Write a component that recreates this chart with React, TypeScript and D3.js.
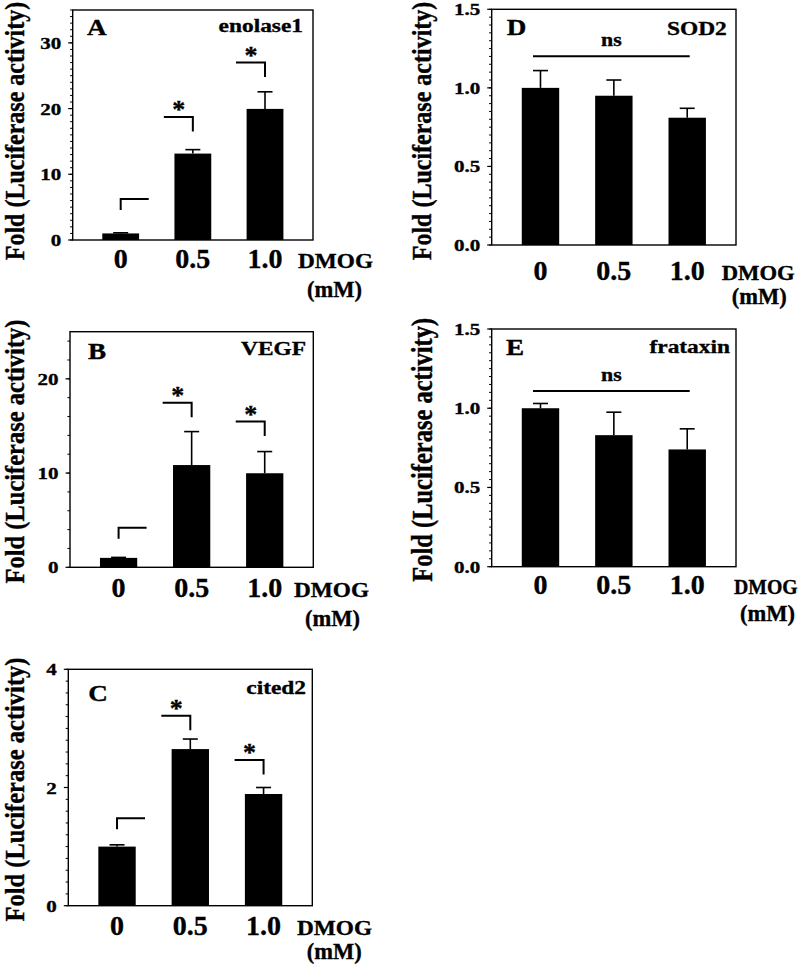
import React from 'react';
import * as d3 from 'd3';

// ---------- data ----------
const doses = ['0', '0.5', '1.0'];

const enolaseMean = [1.0, 13.15, 19.95];
const enolaseErr = [0.1, 0.6, 2.6];
const vegfMean = [1.0, 10.85, 9.98];
const vegfErr = [0.05, 3.55, 2.3];
const cited2Mean = [1.0, 2.65, 1.89];
const cited2Err = [0.03, 0.17, 0.11];
const sod2Mean = [1.0, 0.95, 0.81];
const sod2Err = [0.11, 0.1, 0.06];
const frataxinMean = [1.0, 0.83, 0.74];
const frataxinErr = [0.03, 0.145, 0.13];

const enolaseTicks = [0, 10, 20, 30];
const vegfTicks = [0, 10, 20];
const cited2Ticks = [0, 2, 4];
const sodTicks = [0, 0.5, 1.0, 1.5];
const frataxinTicks = [0, 0.5, 1.0, 1.5];

// significance bracket levels (data units)
const enolaseBrackets = [6.24, 18.7, 27.0];
const vegfBrackets = [4.2, 17.47, 15.46];
const cited2Brackets = [1.479, 3.215, 2.465];
const sod2Ns = 1.202;
const frataxinNs = 1.109;

const FONT = "'Liberation Serif', 'Times New Roman', Times, serif";

type Panel = {
  letter: string;
  name: string;
  mean: number[];
  err: number[];
  ticks: number[];
  yMax: number;
  minor: number;
  fmt: (v: number) => string;
  brackets?: number[];
  ns?: number;
  L: number; R: number; T: number; B: number;
  letterDx: number; letterDy: number;
  nameDx: number; nameDy: number;
  xLabelY: number; dmogX: number; dmogSx: number; mmX: number; mmY: number;
  titleX: number; titleSx: number; titleSize: number; titleMinCy: number;
};

const intFmt = d3.format('d');
const decFmt = d3.format('.1f');

const panels: Panel[] = [
  {
    letter: 'A', name: 'enolase1', mean: enolaseMean, err: enolaseErr, ticks: enolaseTicks,
    yMax: 35, minor: 1, fmt: intFmt, brackets: enolaseBrackets,
    L: 72.7, R: 313, T: 10, B: 240,
    letterDx: 14.3, letterDy: 25, nameDx: 10, nameDy: 22,
    xLabelY: 268, dmogX: 298, dmogSx: 1.06, mmX: 307, mmY: 297,
    titleX: 24, titleSx: 1.1, titleSize: 24, titleMinCy: 131,
  },
  {
    letter: 'B', name: 'VEGF', mean: vegfMean, err: vegfErr, ticks: vegfTicks,
    yMax: 25, minor: 2, fmt: intFmt, brackets: vegfBrackets,
    L: 70, R: 313.3, T: 331.7, B: 567.3,
    letterDx: 18, letterDy: 27.6, nameDx: 7.3, nameDy: 23.3,
    xLabelY: 596.5, dmogX: 294, dmogSx: 1.06, mmX: 305, mmY: 626,
    titleX: 24, titleSx: 1.1, titleSize: 24.5, titleMinCy: 0,
  },
  {
    letter: 'C', name: 'cited2', mean: cited2Mean, err: cited2Err, ticks: cited2Ticks,
    yMax: 4, minor: 0.2, fmt: intFmt, brackets: cited2Brackets,
    L: 68.3, R: 312.3, T: 669.3, B: 905.7,
    letterDx: 20, letterDy: 31.4, nameDx: 6.3, nameDy: 24.7,
    xLabelY: 935, dmogX: 297, dmogSx: 1.06, mmX: 306.7, mmY: 959,
    titleX: 24, titleSx: 1.1, titleSize: 24.5, titleMinCy: 0,
  },
  {
    letter: 'D', name: 'SOD2', mean: sod2Mean, err: sod2Err, ticks: sodTicks,
    yMax: 1.5, minor: 0.05, fmt: decFmt, ns: sod2Ns,
    L: 491.7, R: 736, T: 9.3, B: 245,
    letterDx: 15, letterDy: 25.7, nameDx: 9.3, nameDy: 25.7,
    xLabelY: 280, dmogX: 721.7, dmogSx: 1.03, mmX: 731.7, mmY: 304,
    titleX: 431, titleSx: 1.16, titleSize: 24, titleMinCy: 131,
  },
  {
    letter: 'E', name: 'frataxin', mean: frataxinMean, err: frataxinErr, ticks: frataxinTicks,
    yMax: 1.5, minor: 0.05, fmt: decFmt, ns: frataxinNs,
    L: 491.7, R: 736, T: 329, B: 566.7,
    letterDx: 14.3, letterDy: 26, nameDx: 6, nameDy: 24.3,
    xLabelY: 594, dmogX: 734, dmogSx: 0.9, mmX: 740, mmY: 621,
    titleX: 432, titleSx: 1.16, titleSize: 24.5, titleMinCy: 0,
  },
];

function T({ x, y, size, sx = 1, anchor = 'start', rot = false, children }: any) {
  const tr = `translate(${x},${y}) scale(${sx},1)${rot ? ' rotate(-90)' : ''}`;
  return (
    <text transform={tr} fontSize={size} fontWeight="bold"
      style={{ fontFamily: FONT }}
      textAnchor={anchor} fill="#000" stroke="#000" strokeWidth={0.35}>{children}</text>
  );
}

function PanelView({ p }: { p: Panel }) {
  const x = d3.scaleBand<string>().domain(doses).range([p.L, p.R]).paddingInner(0.49).paddingOuter(0.41);
  const y = d3.scaleLinear().domain([0, p.yMax]).range([p.B, p.T]);
  const bw = x.bandwidth();
  const cx = (d: string) => (x(d) as number) + bw / 2;
  const minorTicks = d3.range(0, p.yMax + p.minor / 2, p.minor);
  const capHalf = 7.5;
  const titleCy = Math.max((p.T + p.B) / 2 + 2, p.titleMinCy);

  return (
    <g>
      {doses.map((d, i) => (
        <rect key={'b' + i} x={x(d)} y={y(p.mean[i])} width={bw} height={p.B - y(p.mean[i])} fill="#000" />
      ))}
      {doses.map((d, i) => (
        <g key={'e' + i} stroke="#000" strokeWidth={1.6}>
          <line x1={cx(d)} x2={cx(d)} y1={y(p.mean[i])} y2={y(p.mean[i] + p.err[i])} />
          <line x1={cx(d) - capHalf} x2={cx(d) + capHalf} y1={y(p.mean[i] + p.err[i])} y2={y(p.mean[i] + p.err[i])} />
        </g>
      ))}
      <rect x={p.L} y={p.T} width={p.R - p.L} height={p.B - p.T} fill="none" stroke="#000" strokeWidth={1.4} />
      {minorTicks.map((v, i) => (
        <line key={'m' + i} x1={p.L - 2.6} x2={p.L} y1={y(v)} y2={y(v)} stroke="#000" strokeWidth={1} />
      ))}
      {p.ticks.map((v, i) => (
        <line key={'M' + i} x1={p.L - 4.5} x2={p.L} y1={y(v)} y2={y(v)} stroke="#000" strokeWidth={1.2} />
      ))}
      {p.ticks.map((v, i) => (
        <T key={'tl' + i} x={p.L - 11.5} y={y(v) + 6} size={17.5} sx={1.2} anchor="end">{p.fmt(v)}</T>
      ))}
      <T x={p.titleX} y={titleCy} size={p.titleSize} sx={p.titleSx} anchor="middle" rot>Fold (Luciferase activity)</T>
      {doses.map((d, i) => (
        <T key={'xl' + i} x={cx(d)} y={p.xLabelY} size={28} anchor="middle">{d}</T>
      ))}
      <T x={p.dmogX} y={p.xLabelY} size={22} sx={p.dmogSx}>DMOG</T>
      <T x={p.mmX} y={p.mmY} size={22.5}>(mM)</T>
      <T x={p.L + p.letterDx} y={p.T + p.letterDy} size={23} sx={1.18}>{p.letter}</T>
      <T x={p.R - p.nameDx} y={p.T + p.nameDy} size={19.5} sx={1.2} anchor="end">{p.name}</T>
      {p.brackets && p.brackets.map((lv, i) => {
        const c = cx(doses[i]);
        const yy = y(lv);
        if (i === 0) {
          return (
            <path key={'br' + i} d={`M${c},${yy + 11}V${yy}H${c + 28}`} fill="none" stroke="#000" strokeWidth={2} />
          );
        }
        return (
          <g key={'br' + i}>
            <path d={`M${c - 29},${yy}H${c}V${yy + 14.5}`} fill="none" stroke="#000" strokeWidth={2} />
            <T x={c - 14} y={yy + 1} size={26} anchor="middle">*</T>
          </g>
        );
      })}
      {p.ns !== undefined && (
        <g>
          <line x1={cx(doses[0]) - 7.5} x2={cx(doses[2]) + 2.5} y1={y(p.ns)} y2={y(p.ns)} stroke="#000" strokeWidth={2} />
          <T x={cx(doses[1]) - 2.5} y={y(p.ns) - 10} size={19} sx={1.15} anchor="middle">ns</T>
        </g>
      )}
    </g>
  );
}

export default function App() {
  return (
    <svg width={800} height={965} viewBox="0 0 800 965"
      style={{ position: 'absolute', left: 0, top: 0, background: '#fff', display: 'block' }}>
      <rect x={0} y={0} width={800} height={965} fill="#fff" />
      {panels.map((p) => <PanelView key={p.letter} p={p} />)}
    </svg>
  );
}
